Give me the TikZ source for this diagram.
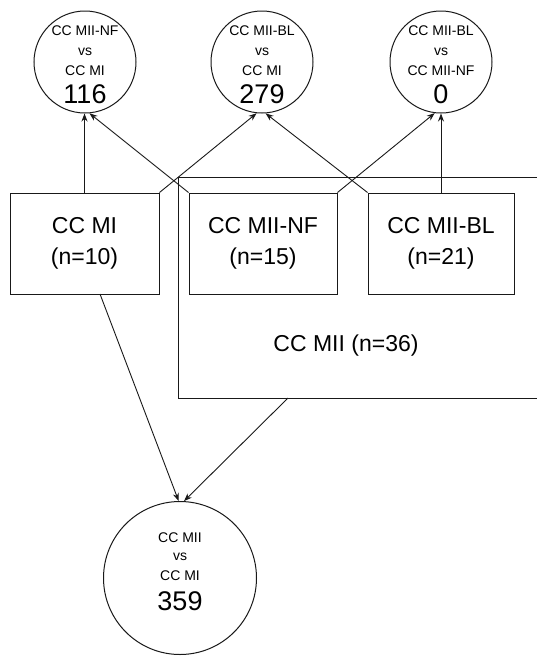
\documentclass[tikz,border=0pt]{standalone}
\usepackage{fontspec}
\setmainfont{Liberation Sans}
\usetikzlibrary{arrows.meta}
\tikzset{
  ln/.style={draw=black!90, line width=1pt},
  cmpcircle/.style={ln, circle, minimum size=102pt, inner sep=0pt},
  bigcircle/.style={ln, circle, minimum size=153pt, inner sep=0pt},
  smalltxt/.style={font=\fontsize{14}{16}\selectfont, anchor=base, inner sep=0pt},
  numtxt/.style={font=\fontsize{27}{30}\selectfont, anchor=base, inner sep=0pt},
  grp/.style={ln, minimum height=101pt, inner sep=0pt, align=center, font=\fontsize{23}{31}\selectfont},
  link/.style={draw=black!90, line width=0.9pt, -{Stealth[length=8pt,width=6pt]}},
}
\begin{document}
\begin{tikzpicture}[x=1pt,y=-1pt]
\clip (0,0) rectangle (537,657);
\fill[white] (0,0) rectangle (537,657);

% comparison circles
\node[cmpcircle] (c1) at (85,62) {};
\node[smalltxt] (c1a) at (85,35) {CC MII-NF};
\node[smalltxt] (c1b) at (85,55) {vs};
\node[smalltxt] (c1c) at (85,75) {CC MI};
\node[numtxt] (c1n) at (85,103) {116};

\node[cmpcircle] (c2) at (262,62) {};
\node[smalltxt] (c2a) at (262,35) {CC MII-BL};
\node[smalltxt] (c2b) at (262,55) {vs};
\node[smalltxt] (c2c) at (262,75) {CC MI};
\node[numtxt] (c2n) at (262,103) {279};

\node[cmpcircle] (c3) at (441,62) {};
\node[smalltxt] (c3a) at (441,35) {CC MII-BL};
\node[smalltxt] (c3b) at (441,55) {vs};
\node[smalltxt] (c3c) at (441,75) {CC MII-NF};
\node[numtxt] (c3n) at (441,103) {0};

\node[bigcircle] (c4) at (180,578) {};
\node[smalltxt] (c4a) at (180,542) {CC MII};
\node[smalltxt] (c4b) at (180,560) {vs};
\node[smalltxt] (c4c) at (180,580) {CC MI};
\node[numtxt] (c4n) at (180,610) {359};

% group container
\node[ln, minimum width=372pt, minimum height=221pt, inner sep=0pt, anchor=north west] (mii) at (178,177) {};
\node[font=\fontsize{23}{31}\selectfont, inner sep=0pt] (miilbl) at (346,346) {CC MII (n=36)};

% boxes
\node[grp, minimum width=149pt] (b1) at (84.5,243.5) {CC MI\\(n=10)};
\node[grp, minimum width=148pt] (b2) at (263,243.5) {CC MII-NF\\(n=15)};
\node[grp, minimum width=146pt] (b3) at (441,243.5) {CC MII-BL\\(n=21)};

% connectors
\draw[link] (b1.north) -- (b1.north |- c1.south);
\draw[link] (b1.north east) -- (c2.-96);
\draw[link] (b2.north west) -- (c1.-85);
\draw[link] (b2.north east) -- (c3.-97);
\draw[link] (b3.north west) -- (c2.-86);
\draw[link] (b3.north) -- (c3.south);
\coordinate (b1out) at (100,294);
\coordinate (miiout) at (288,398);
\draw[link] (b1out) -- (c4.91.5);
\draw[link] (miiout) -- (c4.87);
\end{tikzpicture}
\end{document}
